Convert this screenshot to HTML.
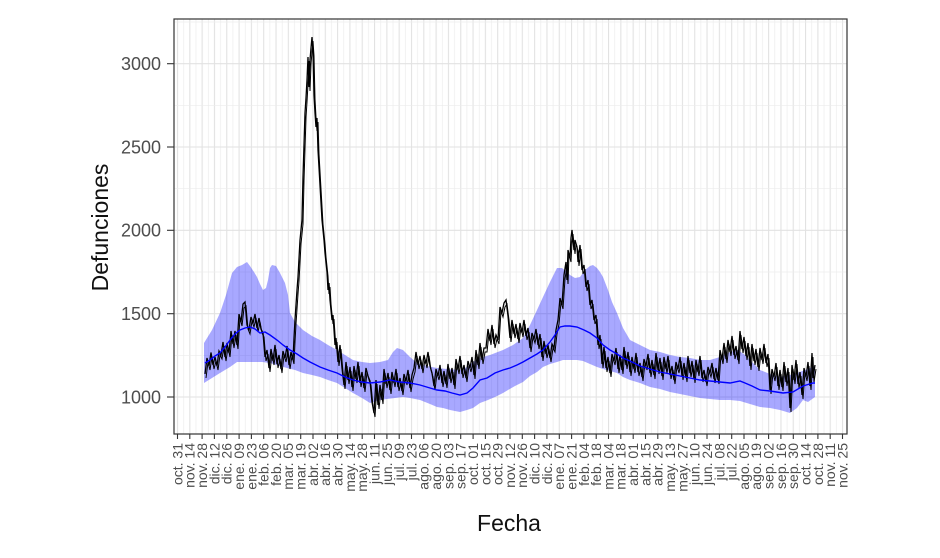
<!DOCTYPE html>
<html>
<head>
<meta charset="utf-8">
<style>
html,body{margin:0;padding:0;background:#fff;}
svg{display:block;}
text{font-family:"Liberation Sans",Arial,sans-serif;}
</style>
</head>
<body>
<svg width="940" height="558" viewBox="0 0 940 558" xmlns="http://www.w3.org/2000/svg">
<defs>
<pattern id="vg" patternUnits="userSpaceOnUse" x="174.5" y="0" width="12.315" height="558">
<line x1="3" y1="0" x2="3" y2="558" stroke="#e2e2e2" stroke-width="1.1"/>
<line x1="9.157" y1="0" x2="9.157" y2="558" stroke="#ececec" stroke-width="0.7"/>
</pattern>
<clipPath id="pc"><rect x="174" y="19" width="673" height="415"/></clipPath>
<polyline id="obs" fill="none" points="205,374 207,358 209,366 211,352.5 213,365 215,357 217,366 219,351 221,355 223,342 225,357 227,343 229,353 231,331 233,344 235,331 237,345 239,314 241,322 243,304 245,302 247,325 249,330 251,317 253,323 255,314 257,328 259,318 261,329 263,333 265,357 267,350 269,368 271,349 273,361 275,345 277,364 279,355 281,369 283,351 285,358 287,346 289,365 291,352 293,360 294,338 295,320 297,290 298,277 300,240 302,220 303,177 305,113 306,98 307,80 308,57 309,87 310,60 311,48 312,37 313,52 314,95 315,113 316,127 317,118 318,150 320,185 322,220 324,240 325,253 327,272 328,290 329,283 330,300 332,320 333,315 335,345 336,338 338,362 340,345 342,368 344,385 346,362 348,380 350,367 352,387 354,366 356,379 358,362 360,383 362,372 364,388 366,368 368,376 370,381 372,402 374,413 376,380 378,405 380,385 382,400 384,369 386,384 388,373 390,390 392,372 394,383 396,369 398,387 400,378 402,391 404,374 406,381 408,370 410,388 412,375 414,368 416,352 418,365 420,356 422,369 424,355 426,364 428,352 430,366 432,373 434,386 436,369 438,376 440,365 442,383 444,371 446,384 448,364 450,379 452,368 454,385 456,359 458,370 460,356 462,374 464,365 466,378 468,361 470,368 472,357 474,375 476,350 478,365 480,343 482,360 484,348 486,348 488,329 490,341 492,325 494,344 496,335 498,340 500,307 502,313 504,303 506,300 508,316 510,338 512,320 514,334 516,324 518,339 520,323 522,333 524,320 526,336 528,328 530,348 532,333 534,339 536,329 538,345 540,334 542,357 544,341 546,354 548,345 550,358 552,344 554,348 556,330 558,320 560,298 562,305 564,275 566,262 567,280 568,250 570,258 571,238 572,230 574,250 575,240 577,247 578,262 580,245 582,270 584,265 586,287 588,280 590,305 592,300 594,320 596,315 598,345 600,335 602,364 604,347 606,368 608,357 610,373 612,354 614,361 616,348 618,369 620,355 622,370 624,347 626,365 628,352 630,372 632,357 634,369 636,353 638,372 640,363 642,377 644,359 646,366 648,354 650,373 652,360 654,375 656,353 658,370 660,358 662,376 664,357 666,369 668,356 670,375 672,366 674,380 676,362 678,369 680,357 682,376 684,363 686,378 688,356 690,373 692,361 694,379 696,360 698,372 700,356 702,378 704,370 706,382 708,367 710,373 712,363 714,379 716,368 718,380 720,350 722,360 724,343 726,359 728,340 730,352 732,336 734,355 736,346 738,360 740,331 742,349 744,337 746,356 748,343 750,366 752,344 754,361 756,349 758,367 760,348 762,360 764,344 766,363 768,354 770,390 772,369 774,377 776,363 778,386 780,370 782,387 784,362 786,382 788,368 790,408 792,365 794,380 796,360 798,384 800,372 802,395 804,368 806,377 808,362 810,386 812,353 813,378 815,365"/>
</defs>
<rect width="940" height="558" fill="#fff"/>
<rect x="174" y="19" width="673" height="415" fill="url(#vg)"/>
<g stroke="#ececec" stroke-width="0.7">
<line x1="174" x2="847" y1="22" y2="22"/>
<line x1="174" x2="847" y1="105.3" y2="105.3"/>
<line x1="174" x2="847" y1="188.7" y2="188.7"/>
<line x1="174" x2="847" y1="272" y2="272"/>
<line x1="174" x2="847" y1="355.3" y2="355.3"/>
</g>
<g stroke="#e2e2e2" stroke-width="1.1">
<line x1="174" x2="847" y1="63.7" y2="63.7"/>
<line x1="174" x2="847" y1="147" y2="147"/>
<line x1="174" x2="847" y1="230.3" y2="230.3"/>
<line x1="174" x2="847" y1="313.7" y2="313.7"/>
<line x1="174" x2="847" y1="397" y2="397"/>
</g>
<g clip-path="url(#pc)">
<path fill="#0000ff" fill-opacity="0.34" stroke="none" d="M204,343 L212,330 L220,313 L226,295 L232,273 L237,267 L242,265 L247,262 L250,266 L254,272 L257,277 L260,284 L263,290 L266,288 L268,280 L270,268 L272,265 L276,266 L280,273 L285,283 L288,295 L290,313 L295,322 L303,330 L312,336 L320,340 L328,345 L337,350 L345,355 L353,360 L362,362 L370,363 L380,362 L388,360 L393,352 L397,348 L403,350 L410,357 L417,363 L427,366 L437,368 L447,369 L460,370 L467,367 L473,362 L480,358 L490,355 L503,350 L513,345 L523,338 L530,325 L537,310 L543,297 L550,282 L557,268 L562,268 L567,272 L570,275 L575,278 L580,277 L585,270 L590,266 L593,265 L597,268 L600,272 L603,277 L608,290 L612,302 L617,313 L623,328 L630,340 L640,345 L650,350 L660,352 L670,355 L680,357 L690,358 L700,360 L710,360 L720,357 L730,352 L738,350 L745,355 L752,362 L760,370 L770,374 L780,377 L790,375 L797,373 L805,370 L815,366 L815,397 L808,402 L803,400 L797,408 L790,413 L780,410 L770,408 L760,407 L750,404 L740,401 L730,400 L720,400 L710,399 L700,398 L690,396 L680,394 L670,392 L660,389 L650,387 L640,383 L630,380 L623,377 L617,373 L610,371 L603,369 L597,367 L590,364 L583,361 L577,360 L570,360 L563,360 L557,362 L550,364 L543,367 L537,372 L530,376 L523,382 L515,386 L508,390 L503,393 L495,397 L488,400 L480,403 L473,408 L467,410 L460,412 L450,410 L443,408 L437,407 L430,404 L420,400 L410,398 L403,397 L395,398 L387,399 L380,400 L370,403 L362,398 L353,393 L345,388 L337,383 L328,380 L320,377 L312,375 L303,373 L295,370 L287,368 L280,366 L270,363 L262,362 L255,362 L245,362 L237,362 L230,367 L220,373 L212,378 L204,383 Z"/>
<use href="#obs" stroke="#000" stroke-width="1.3"/>
<use href="#obs" transform="translate(1,4)" stroke="#000" stroke-width="1"/>
<polyline fill="none" stroke="#0000ff" stroke-width="1.4" points="205,363 210,360 215,356 220,353 225,347 230,340 235,334 240,330 245,328 250,327 255,329 260,333 265,332 270,335 277,340 283,345 290,350 297,354 303,358 310,362 320,367 328,370 337,373 345,377 353,380 362,382 370,383 380,382 390,380 400,382 410,383 420,385 430,388 437,390 445,391 452,393 460,395 467,393 473,388 480,380 487,378 495,373 503,370 510,368 517,365 523,362 530,358 537,354 543,350 550,342 555,335 560,327 565,326 570,326 577,327 584,330 590,333 597,338 603,345 610,350 617,354 623,358 630,361 640,366 650,369 660,372 670,374 680,376 690,378 700,380 710,381 720,382 730,383 740,381 745,383 752,386 760,390 770,391 783,393 793,392 803,386 813,383 815,383"/>
</g>
<rect x="174" y="19" width="673" height="415" fill="none" stroke="#333333" stroke-width="1.2"/>
<g stroke="#333333" stroke-width="1.1">
<line x1="167" x2="174" y1="63.7" y2="63.7"/>
<line x1="167" x2="174" y1="147" y2="147"/>
<line x1="167" x2="174" y1="230.3" y2="230.3"/>
<line x1="167" x2="174" y1="313.7" y2="313.7"/>
<line x1="167" x2="174" y1="397" y2="397"/>
</g>
<g fill="#4d4d4d" font-size="18" text-anchor="end">
<text x="161" y="70">3000</text>
<text x="161" y="153.3">2500</text>
<text x="161" y="236.6">2000</text>
<text x="161" y="320">1500</text>
<text x="161" y="403.3">1000</text>
</g>
<g stroke="#333333" stroke-width="1.1">
<line x1="177.5" x2="177.5" y1="434" y2="439"/><line x1="189.8" x2="189.8" y1="434" y2="439"/><line x1="202.1" x2="202.1" y1="434" y2="439"/><line x1="214.4" x2="214.4" y1="434" y2="439"/><line x1="226.8" x2="226.8" y1="434" y2="439"/><line x1="239.1" x2="239.1" y1="434" y2="439"/><line x1="251.4" x2="251.4" y1="434" y2="439"/><line x1="263.7" x2="263.7" y1="434" y2="439"/><line x1="276" x2="276" y1="434" y2="439"/><line x1="288.3" x2="288.3" y1="434" y2="439"/><line x1="300.7" x2="300.7" y1="434" y2="439"/><line x1="313" x2="313" y1="434" y2="439"/><line x1="325.3" x2="325.3" y1="434" y2="439"/><line x1="337.6" x2="337.6" y1="434" y2="439"/><line x1="349.9" x2="349.9" y1="434" y2="439"/><line x1="362.2" x2="362.2" y1="434" y2="439"/><line x1="374.5" x2="374.5" y1="434" y2="439"/><line x1="386.9" x2="386.9" y1="434" y2="439"/><line x1="399.2" x2="399.2" y1="434" y2="439"/><line x1="411.5" x2="411.5" y1="434" y2="439"/><line x1="423.8" x2="423.8" y1="434" y2="439"/><line x1="436.1" x2="436.1" y1="434" y2="439"/><line x1="448.4" x2="448.4" y1="434" y2="439"/><line x1="460.7" x2="460.7" y1="434" y2="439"/><line x1="473.1" x2="473.1" y1="434" y2="439"/><line x1="485.4" x2="485.4" y1="434" y2="439"/><line x1="497.7" x2="497.7" y1="434" y2="439"/><line x1="510" x2="510" y1="434" y2="439"/><line x1="522.3" x2="522.3" y1="434" y2="439"/><line x1="534.6" x2="534.6" y1="434" y2="439"/><line x1="546.9" x2="546.9" y1="434" y2="439"/><line x1="559.3" x2="559.3" y1="434" y2="439"/><line x1="571.6" x2="571.6" y1="434" y2="439"/><line x1="583.9" x2="583.9" y1="434" y2="439"/><line x1="596.2" x2="596.2" y1="434" y2="439"/><line x1="608.5" x2="608.5" y1="434" y2="439"/><line x1="620.8" x2="620.8" y1="434" y2="439"/><line x1="633.2" x2="633.2" y1="434" y2="439"/><line x1="645.5" x2="645.5" y1="434" y2="439"/><line x1="657.8" x2="657.8" y1="434" y2="439"/><line x1="670.1" x2="670.1" y1="434" y2="439"/><line x1="682.4" x2="682.4" y1="434" y2="439"/><line x1="694.7" x2="694.7" y1="434" y2="439"/><line x1="707" x2="707" y1="434" y2="439"/><line x1="719.4" x2="719.4" y1="434" y2="439"/><line x1="731.7" x2="731.7" y1="434" y2="439"/><line x1="744" x2="744" y1="434" y2="439"/><line x1="756.3" x2="756.3" y1="434" y2="439"/><line x1="768.6" x2="768.6" y1="434" y2="439"/><line x1="780.9" x2="780.9" y1="434" y2="439"/><line x1="793.3" x2="793.3" y1="434" y2="439"/><line x1="805.6" x2="805.6" y1="434" y2="439"/><line x1="817.9" x2="817.9" y1="434" y2="439"/><line x1="830.2" x2="830.2" y1="434" y2="439"/><line x1="842.5" x2="842.5" y1="434" y2="439"/>
</g>
<g fill="#4d4d4d" font-size="14" text-anchor="end">
<text transform="translate(177.5,443) rotate(-90)" dy="0.35em">oct. 31</text>
<text transform="translate(189.8,443) rotate(-90)" dy="0.35em">nov. 14</text>
<text transform="translate(202.1,443) rotate(-90)" dy="0.35em">nov. 28</text>
<text transform="translate(214.4,443) rotate(-90)" dy="0.35em">dic. 12</text>
<text transform="translate(226.8,443) rotate(-90)" dy="0.35em">dic. 26</text>
<text transform="translate(239.1,443) rotate(-90)" dy="0.35em">ene. 09</text>
<text transform="translate(251.4,443) rotate(-90)" dy="0.35em">ene. 23</text>
<text transform="translate(263.7,443) rotate(-90)" dy="0.35em">feb. 06</text>
<text transform="translate(276,443) rotate(-90)" dy="0.35em">feb. 20</text>
<text transform="translate(288.3,443) rotate(-90)" dy="0.35em">mar. 05</text>
<text transform="translate(300.7,443) rotate(-90)" dy="0.35em">mar. 19</text>
<text transform="translate(313,443) rotate(-90)" dy="0.35em">abr. 02</text>
<text transform="translate(325.3,443) rotate(-90)" dy="0.35em">abr. 16</text>
<text transform="translate(337.6,443) rotate(-90)" dy="0.35em">abr. 30</text>
<text transform="translate(349.9,443) rotate(-90)" dy="0.35em">may. 14</text>
<text transform="translate(362.2,443) rotate(-90)" dy="0.35em">may. 28</text>
<text transform="translate(374.5,443) rotate(-90)" dy="0.35em">jun. 11</text>
<text transform="translate(386.9,443) rotate(-90)" dy="0.35em">jun. 25</text>
<text transform="translate(399.2,443) rotate(-90)" dy="0.35em">jul. 09</text>
<text transform="translate(411.5,443) rotate(-90)" dy="0.35em">jul. 23</text>
<text transform="translate(423.8,443) rotate(-90)" dy="0.35em">ago. 06</text>
<text transform="translate(436.1,443) rotate(-90)" dy="0.35em">ago. 20</text>
<text transform="translate(448.4,443) rotate(-90)" dy="0.35em">sep. 03</text>
<text transform="translate(460.7,443) rotate(-90)" dy="0.35em">sep. 17</text>
<text transform="translate(473.1,443) rotate(-90)" dy="0.35em">oct. 01</text>
<text transform="translate(485.4,443) rotate(-90)" dy="0.35em">oct. 15</text>
<text transform="translate(497.7,443) rotate(-90)" dy="0.35em">oct. 29</text>
<text transform="translate(510,443) rotate(-90)" dy="0.35em">nov. 12</text>
<text transform="translate(522.3,443) rotate(-90)" dy="0.35em">nov. 26</text>
<text transform="translate(534.6,443) rotate(-90)" dy="0.35em">dic. 10</text>
<text transform="translate(546.9,443) rotate(-90)" dy="0.35em">dic. 24</text>
<text transform="translate(559.3,443) rotate(-90)" dy="0.35em">ene. 07</text>
<text transform="translate(571.6,443) rotate(-90)" dy="0.35em">ene. 21</text>
<text transform="translate(583.9,443) rotate(-90)" dy="0.35em">feb. 04</text>
<text transform="translate(596.2,443) rotate(-90)" dy="0.35em">feb. 18</text>
<text transform="translate(608.5,443) rotate(-90)" dy="0.35em">mar. 04</text>
<text transform="translate(620.8,443) rotate(-90)" dy="0.35em">mar. 18</text>
<text transform="translate(633.2,443) rotate(-90)" dy="0.35em">abr. 01</text>
<text transform="translate(645.5,443) rotate(-90)" dy="0.35em">abr. 15</text>
<text transform="translate(657.8,443) rotate(-90)" dy="0.35em">abr. 29</text>
<text transform="translate(670.1,443) rotate(-90)" dy="0.35em">may. 13</text>
<text transform="translate(682.4,443) rotate(-90)" dy="0.35em">may. 27</text>
<text transform="translate(694.7,443) rotate(-90)" dy="0.35em">jun. 10</text>
<text transform="translate(707,443) rotate(-90)" dy="0.35em">jun. 24</text>
<text transform="translate(719.4,443) rotate(-90)" dy="0.35em">jul. 08</text>
<text transform="translate(731.7,443) rotate(-90)" dy="0.35em">jul. 22</text>
<text transform="translate(744,443) rotate(-90)" dy="0.35em">ago. 05</text>
<text transform="translate(756.3,443) rotate(-90)" dy="0.35em">ago. 19</text>
<text transform="translate(768.6,443) rotate(-90)" dy="0.35em">sep. 02</text>
<text transform="translate(780.9,443) rotate(-90)" dy="0.35em">sep. 16</text>
<text transform="translate(793.3,443) rotate(-90)" dy="0.35em">sep. 30</text>
<text transform="translate(805.6,443) rotate(-90)" dy="0.35em">oct. 14</text>
<text transform="translate(817.9,443) rotate(-90)" dy="0.35em">oct. 28</text>
<text transform="translate(830.2,443) rotate(-90)" dy="0.35em">nov. 11</text>
<text transform="translate(842.5,443) rotate(-90)" dy="0.35em">nov. 25</text>
</g>
<text x="509" y="531" font-size="23" text-anchor="middle" fill="#111">Fecha</text>
<text transform="translate(108,227.5) rotate(-90)" font-size="23" text-anchor="middle" fill="#111">Defunciones</text>
</svg>
</body>
</html>
